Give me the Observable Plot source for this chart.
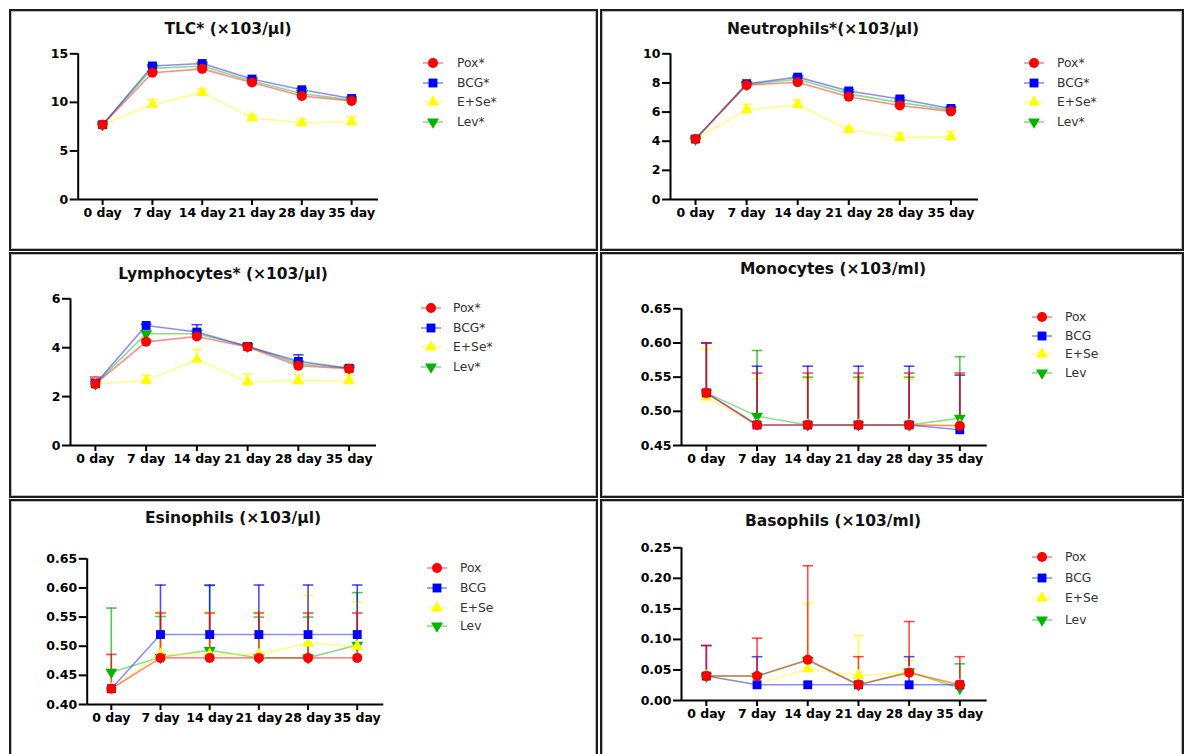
<!DOCTYPE html>
<html><head><meta charset="utf-8">
<script src="https://cdn.jsdelivr.net/npm/d3@7"></script>
<script src="https://cdn.jsdelivr.net/npm/@observablehq/plot@0.6"></script>
<style>
body{margin:0;background:#fff;}
#page{position:relative;width:1185px;height:754px;overflow:hidden;background:#fff;font-family:"DejaVu Sans",sans-serif;}
.panel{position:absolute;box-sizing:border-box;border:2px solid #1c1c1c;box-shadow:inset 0 0 0 1px #bbb;}
.plot{position:absolute;}
.title{position:absolute;font-weight:bold;font-size:15.5px;line-height:15px;white-space:nowrap;transform:translateX(-50%);color:#111;}
.leg{position:absolute;font-size:12.3px;line-height:16px;height:16px;color:#333;white-space:nowrap;display:flex;align-items:center;}
</style></head><body><div id="page"></div><script>
// ---- categories / labels ----
const days = ["0 day","7 day","14 day","21 day","28 day","35 day"];
const groups = ["Pox","BCG","E+Se","Lev"];

// ---- tick values ----
const tlcTicks = [0,5,10,15];
const neuTicks = [0,2,4,6,8,10];
const lymTicks = [0,2,4,6];
const monoTicks = [0.45,0.50,0.55,0.60,0.65];
const esiTicks = [0.40,0.45,0.50,0.55,0.60,0.65];
const basoTicks = [0.00,0.05,0.10,0.15,0.20,0.25];

// ---- TLC ----
const tlcPox = [7.7,13.05,13.45,12.05,10.65,10.15];
const tlcBcg = [7.7,13.75,14.0,12.4,11.3,10.4];
const tlcEse = [7.7,9.8,11.0,8.4,7.9,8.0];
const tlcLev = [7.7,13.5,13.75,12.2,10.9,10.25];
const tlcPoxErr = [0.1,0.15,0.15,0.15,0.15,0.1];
const tlcBcgErr = [0.1,0.15,0.15,0.15,0.15,0.1];
const tlcEseErr = [0.1,0.5,0.4,0.3,0.35,0.55];
const tlcLevErr = [0.1,0.15,0.15,0.15,0.15,0.1];

// ---- Neutrophils ----
const neuPox = [4.15,7.85,8.05,7.05,6.45,6.05];
const neuBcg = [4.15,7.95,8.4,7.45,6.9,6.25];
const neuEse = [4.15,6.15,6.5,4.8,4.25,4.3];
const neuLev = [4.15,7.9,8.25,7.25,6.65,6.15];
const neuPoxErr = [0.05,0.1,0.1,0.1,0.1,0.08];
const neuBcgErr = [0.05,0.1,0.1,0.1,0.1,0.08];
const neuEseErr = [0.05,0.38,0.34,0.1,0.32,0.36];
const neuLevErr = [0.05,0.1,0.1,0.1,0.1,0.08];

// ---- Lymphocytes ----
const lymPox = [2.52,4.24,4.46,4.03,3.26,3.14];
const lymBcg = [2.52,4.91,4.64,4.05,3.44,3.16];
const lymEse = [2.52,2.66,3.52,2.6,2.65,2.65];
const lymLev = [2.52,4.57,4.57,4.06,3.34,3.16];
const lymPoxErr = [0.28,0.08,0.1,0.05,0.08,0.05];
const lymBcgErr = [0.2,0.05,0.3,0.06,0.27,0.05];
const lymEseErr = [0.05,0.22,0.4,0.32,0.25,0.22];
const lymLevErr = [0.05,0.1,0.15,0.06,0.1,0.05];

// ---- Monocytes ----
const monoPox = [0.527,0.48,0.48,0.48,0.48,0.479];
const monoBcg = [0.527,0.48,0.48,0.48,0.48,0.473];
const monoEse = [0.521,0.48,0.48,0.48,0.48,0.48];
const monoLev = [0.527,0.493,0.48,0.48,0.48,0.49];
const monoPoxErr = [0.073,0.076,0.076,0.076,0.076,0.077];
const monoBcgErr = [0.073,0.086,0.086,0.086,0.086,0.08];
const monoEseErr = [0.07,0.067,0.067,0.067,0.067,0.073];
const monoLevErr = [0.073,0.096,0.07,0.07,0.07,0.09];

// ---- Esinophils ----
const esiPox = [0.427,0.48,0.48,0.48,0.48,0.48];
const esiBcg = [0.427,0.52,0.52,0.52,0.52,0.52];
const esiEse = [0.427,0.486,0.486,0.486,0.505,0.5];
const esiLev = [0.4555,0.481,0.493,0.48,0.48,0.502];
const esiPoxErr = [0.059,0.077,0.077,0.077,0.077,0.077];
const esiBcgErr = [0,0.085,0.085,0.085,0.085,0.085];
const esiEseErr = [0,0.073,0.073,0.073,0.082,0.076];
const esiLevErr = [0.11,0.07,0.111,0.07,0.07,0.09];

// ---- Basophils ----
const basoPox = [0.04,0.04,0.0666,0.0257,0.0453,0.0257];
const basoBcg = [0.04,0.0257,0.0257,0.0257,0.0257,0.0257];
const basoEse = [0.04,0.027,0.0517,0.041,0.046,0.025];
const basoLev = [0.04,0.04,0.066,0.0257,0.047,0.02];
const basoPoxErr = [0.05,0.062,0.154,0.046,0.084,0.046];
const basoBcgErr = [0.05,0.046,0,0,0.046,0];
const basoEseErr = [0,0,0.107,0.065,0.02,0];
const basoLevErr = [0,0,0,0,0,0.04];

// ---- styles ----
const colors = {"Pox":"#ff0000","BCG":"#0000ff","E+Se":"#ffff00","Lev":"#00b400"};
const sq3 = Math.sqrt(3);
const triDown = {draw(ctx, size){const y = -Math.sqrt(size/(sq3*3)); ctx.moveTo(0,-y*2); ctx.lineTo(-sq3*y,y); ctx.lineTo(sq3*y,y); ctx.closePath();}};
const capSym = {draw(ctx, size){const w = Math.sqrt(size)/2; ctx.moveTo(-w,0); ctx.lineTo(w,0);}};
const symbols = {"Pox":"circle","BCG":"square","E+Se":"triangle","Lev":triDown};
const radius = {"Pox":5,"BCG":5,"E+Se":4.4,"Lev":4.4};
const d3sym = {"Pox":d3.symbolCircle,"BCG":d3.symbolSquare,"E+Se":d3.symbolTriangle,"Lev":triDown};
const drawOrder = ["Lev","E+Se","BCG","Pox"];

function table(vals, errs){
  const rows = [];
  groups.forEach((g, gi) => vals[gi].forEach((v, i) => rows.push({day:i, group:g, value:v, err:errs[gi][i]})));
  return rows;
}

const panels = [
  {title:"TLC* (×103/µl)", star:true, rows:table([tlcPox,tlcBcg,tlcEse,tlcLev],[tlcPoxErr,tlcBcgErr,tlcEseErr,tlcLevErr]),
   ticks:tlcTicks, fmt:d3.format("d"), box:[9,9,589,242], ax:[77.7,378,53.3,199], tx:228, ty:35, leg:[433,457,[63,82.5,102,122]]},
  {title:"Neutrophils*(×103/µl)", star:true, rows:table([neuPox,neuBcg,neuEse,neuLev],[neuPoxErr,neuBcgErr,neuEseErr,neuLevErr]),
   ticks:neuTicks, fmt:d3.format("d"), box:[600,9,584,242], ax:[670,978,53.3,199], tx:823, ty:35, leg:[1034,1057,[63,82.5,102,122]]},
  {title:"Lymphocytes* (×103/µl)", star:true, rows:table([lymPox,lymBcg,lymEse,lymLev],[lymPoxErr,lymBcgErr,lymEseErr,lymLevErr]),
   ticks:lymTicks, fmt:d3.format("d"), box:[9,252,589,246], ax:[70,376,298.3,445], tx:223, ty:280, leg:[431,453,[308,328,347,367]]},
  {title:"Monocytes (×103/ml)", star:false, rows:table([monoPox,monoBcg,monoEse,monoLev],[monoPoxErr,monoBcgErr,monoEseErr,monoLevErr]),
   ticks:monoTicks, fmt:d3.format(".2f"), box:[600,252,584,246], ax:[681,986.7,308.3,445], tx:833, ty:275, leg:[1041.7,1065,[316.7,335.7,354.3,373.3]]},
  {title:"Esinophils (×103/µl)", star:false, rows:table([esiPox,esiBcg,esiEse,esiLev],[esiPoxErr,esiBcgErr,esiEseErr,esiLevErr]),
   ticks:esiTicks, fmt:d3.format(".2f"), box:[9,499,589,260], ax:[86.7,383.3,558.3,704], tx:233, ty:524, leg:[436.7,460,[567.7,588.3,607.7,625.7]]},
  {title:"Basophils (×103/ml)", star:false, rows:table([basoPox,basoBcg,basoEse,basoLev],[basoPoxErr,basoBcgErr,basoEseErr,basoLevErr]),
   ticks:basoTicks, fmt:d3.format(".2f"), box:[600,499,584,260], ax:[681,986.7,547.3,700], tx:833, ty:527, leg:[1041.7,1065,[557.3,577.7,598.3,620]]}
];

const page = document.getElementById("page");
const X0 = -0.49, X1 = 5.54;

for (const p of panels) {
  const [bx, by, bw, bh] = p.box;
  const [axL, axR, axT, axB] = p.ax;
  const frame = document.createElement("div");
  frame.className = "panel";
  Object.assign(frame.style, {left: bx+"px", top: by+"px", width: bw+"px", height: bh+"px"});
  page.appendChild(frame);

  const ymin = p.ticks[0], ymax = p.ticks[p.ticks.length-1];
  const marks = [
    Plot.ruleX([X0], {y1: ymin, y2: ymax, stroke: "#000", strokeWidth: 2}),
    Plot.ruleY([ymin], {x1: X0, x2: X1, stroke: "#000", strokeWidth: 2}),
    Plot.axisY({ticks: p.ticks, tickFormat: p.fmt, tickSize: 8, tickPadding: 2, strokeWidth: 2, anchor: "left", label: null}),
    Plot.axisX({ticks: d3.range(6), tickFormat: i => days[i], tickSize: 6, tickPadding: 3, strokeWidth: 2, anchor: "bottom", label: null})
  ];
  for (const g of drawOrder) {
    const r = p.rows.filter(d => d.group === g && d.err > 0);
    marks.push(Plot.ruleX(r, {x: "day", y1: "value", y2: d => d.value + d.err, stroke: colors[g], strokeWidth: 1.6, strokeOpacity: 0.7}));
    marks.push(Plot.dot(r, {x: "day", y: d => d.value + d.err, symbol: capSym, r: 6, fill: "none", stroke: colors[g], strokeWidth: 1.6, strokeOpacity: 0.7}));
  }
  for (const g of drawOrder) {
    const r = p.rows.filter(d => d.group === g);
    marks.push(Plot.line(r, {x: "day", y: "value", stroke: colors[g], strokeWidth: 1.6, strokeOpacity: 0.45}));
  }
  for (const g of drawOrder) {
    const r = p.rows.filter(d => d.group === g);
    marks.push(Plot.dot(r, {x: "day", y: "value", symbol: symbols[g], r: radius[g], fill: colors[g], stroke: "none"}));
  }
  const chart = Plot.plot({
    width: bw, height: bh,
    marginLeft: axL - bx, marginRight: bx + bw - axR,
    marginTop: axT - by, marginBottom: by + bh - axB,
    x: {domain: [X0, X1], axis: null, label: null},
    y: {domain: [ymin, ymax], axis: null, label: null},
    style: "font-family:'DejaVu Sans',sans-serif;font-size:12.5px;font-weight:bold;color:#000;background:transparent;overflow:visible;",
    marks
  });
  chart.classList.add("plot");
  chart.style.left = bx + "px";
  chart.style.top = by + "px";
  page.appendChild(chart);

  const t = document.createElement("div");
  t.className = "title";
  t.textContent = p.title;
  t.style.left = p.tx + "px";
  t.style.top = (p.ty - 12.7) + "px";
  page.appendChild(t);

  const [mx, txx, ys] = p.leg;
  groups.forEach((g, i) => {
    const row = document.createElement("div");
    row.className = "leg";
    row.style.left = (mx - 11) + "px";
    row.style.top = (ys[i] - 8) + "px";
    const w = txx - (mx - 11);
    const svg = d3.create("svg").attr("width", w).attr("height", 16).style("flex", "none");
    svg.append("line").attr("x1", 1).attr("x2", 21).attr("y1", 8).attr("y2", 8)
      .attr("stroke", colors[g]).attr("stroke-width", 1.6).attr("stroke-opacity", 0.45);
    const rr = radius[g];
    svg.append("path").attr("transform", "translate(11,8)")
      .attr("d", d3.symbol(d3sym[g], rr * rr * Math.PI)())
      .attr("fill", colors[g]);
    row.appendChild(svg.node());
    const span = document.createElement("span");
    span.textContent = g + (p.star ? "*" : "");
    row.appendChild(span);
    page.appendChild(row);
  });
}
</script></body></html>
